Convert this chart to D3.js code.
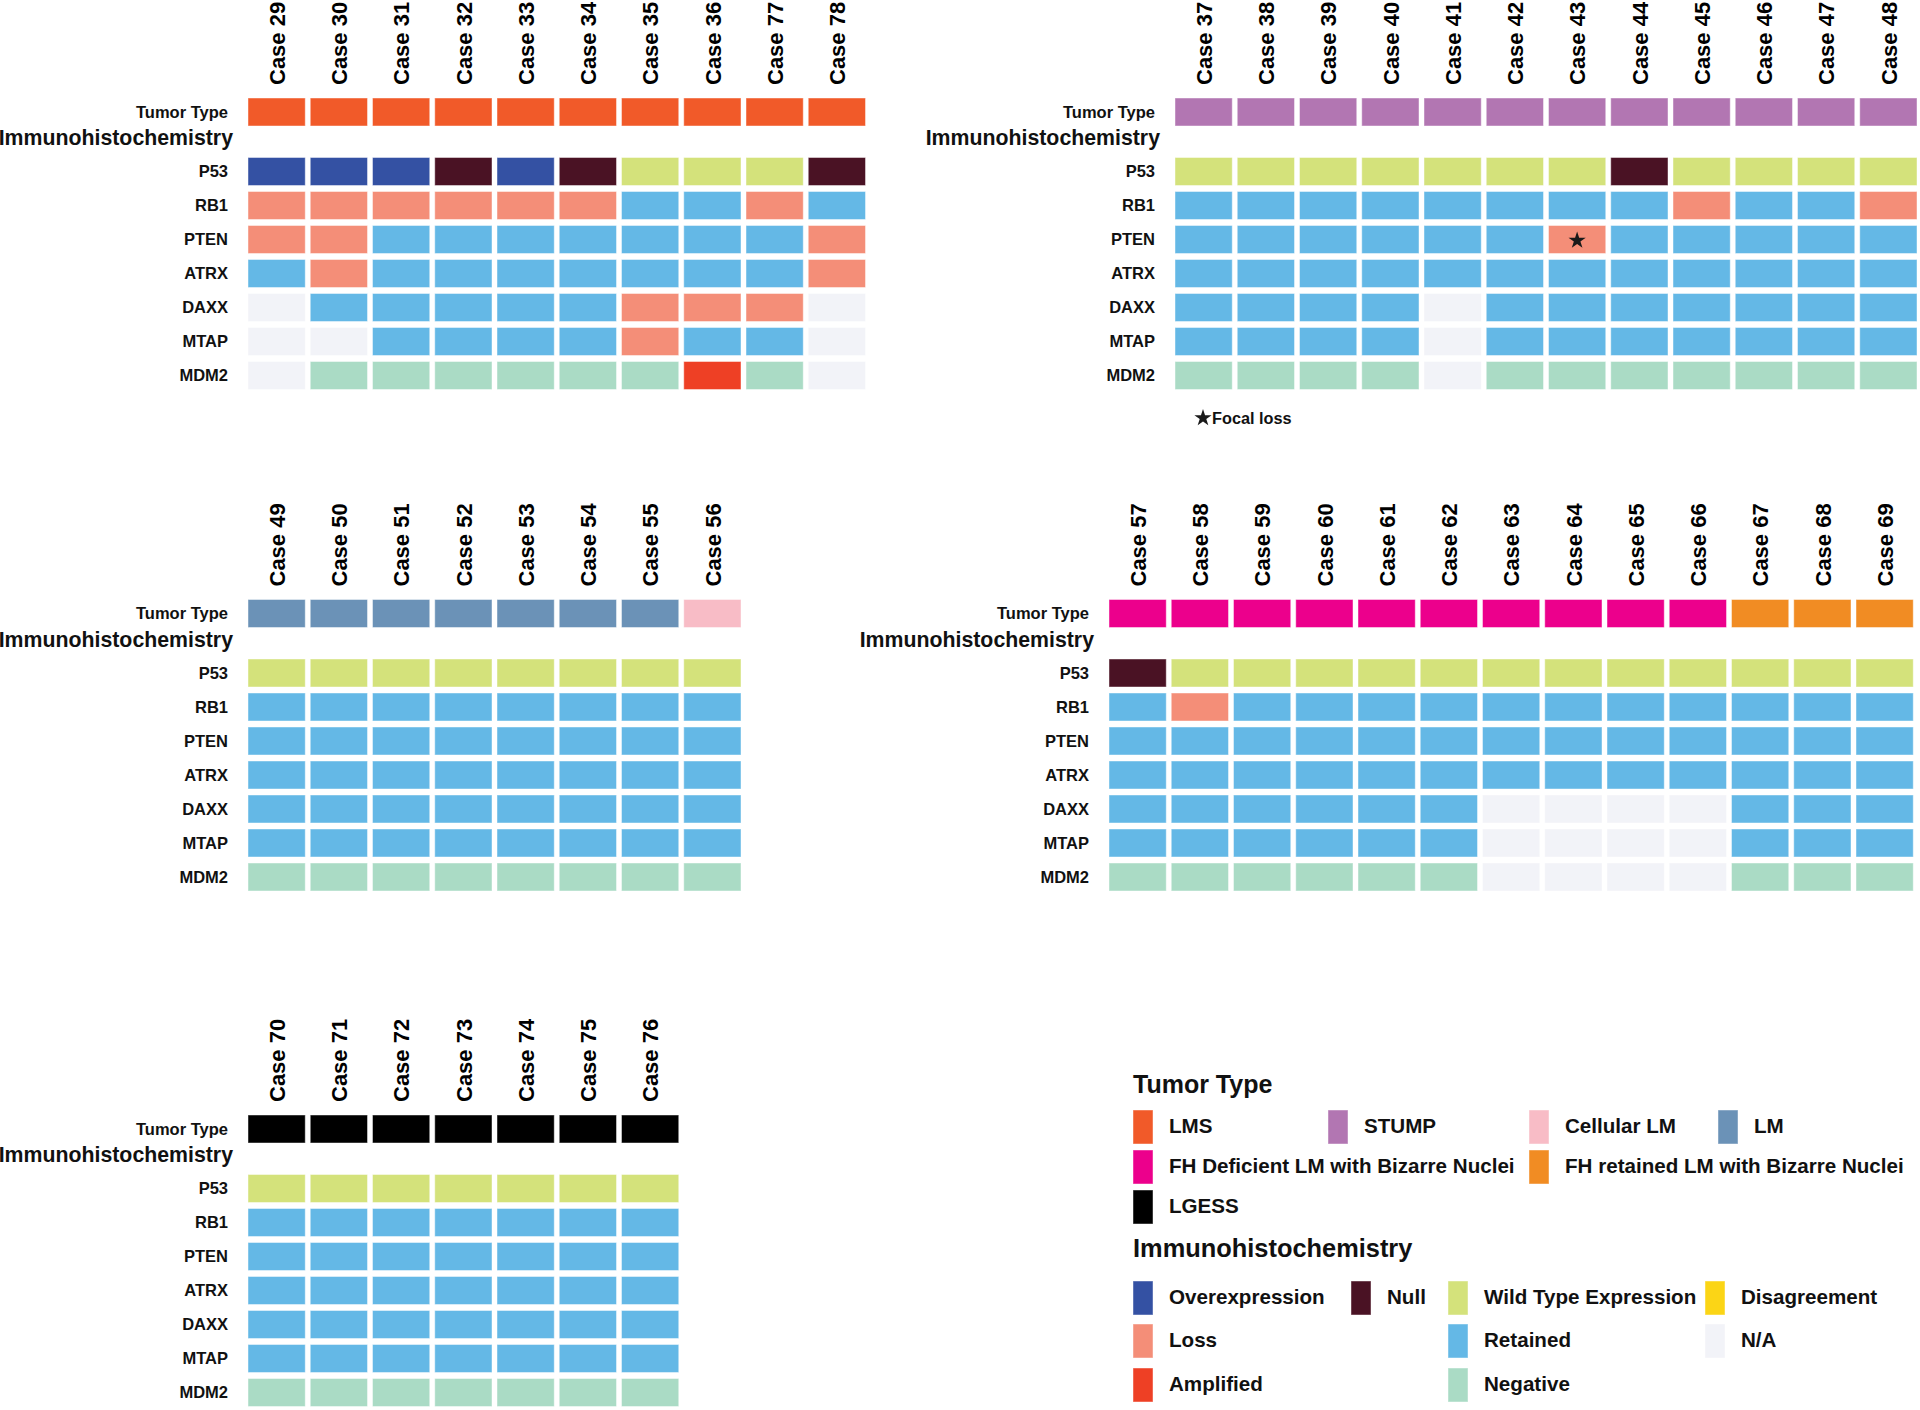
<!DOCTYPE html>
<html>
<head>
<meta charset="utf-8">
<script src="https://cdn.jsdelivr.net/npm/d3@7"></script>
<style>
  body { margin: 0; background: #fff; }
  svg { display: block; }
  text { font-family: "Liberation Sans", Arial, Helvetica, sans-serif; font-weight: bold; fill: #111; }
</style>
</head>
<body>
<svg id="chart" width="1920" height="1410"></svg>
<script>
// ---------------- DATA ----------------
const genes = ["P53", "RB1", "PTEN", "ATRX", "DAXX", "MTAP", "MDM2"];

const tumorTypes  = ["LMS", "STUMP", "Cellular LM", "LM", "FH Deficient LM with Bizarre Nuclei", "FH retained LM with Bizarre Nuclei", "LGESS"];
const tumorColors = ["#F15A29", "#B276B2", "#F8BCC6", "#6B92B7", "#EC008C", "#F18C23", "#000000"];

const ihcCodes      = ["O", "N", "W", "D", "L", "R", "X", "A", "G"];
const ihcCategories = ["Overexpression", "Null", "Wild Type Expression", "Disagreement", "Loss", "Retained", "N/A", "Amplified", "Negative"];
const ihcColors     = ["#3451A3", "#4A1224", "#D4E27B", "#FBD516", "#F48E78", "#64B8E6", "#F2F3F8", "#EE4025", "#AADBC5"];

// Panel A (LMS)
const casesA = ["Case 29", "Case 30", "Case 31", "Case 32", "Case 33", "Case 34", "Case 35", "Case 36", "Case 77", "Case 78"];
const tumorA = ["LMS", "LMS", "LMS", "LMS", "LMS", "LMS", "LMS", "LMS", "LMS", "LMS"];
const ihcA = [
  ["O", "O", "O", "N", "O", "N", "W", "W", "W", "N"], // P53
  ["L", "L", "L", "L", "L", "L", "R", "R", "L", "R"], // RB1
  ["L", "L", "R", "R", "R", "R", "R", "R", "R", "L"], // PTEN
  ["R", "L", "R", "R", "R", "R", "R", "R", "R", "L"], // ATRX
  ["X", "R", "R", "R", "R", "R", "L", "L", "L", "X"], // DAXX
  ["X", "X", "R", "R", "R", "R", "L", "R", "R", "X"], // MTAP
  ["X", "G", "G", "G", "G", "G", "G", "A", "G", "X"]  // MDM2
];

// Panel B (STUMP)
const casesB = ["Case 37", "Case 38", "Case 39", "Case 40", "Case 41", "Case 42", "Case 43", "Case 44", "Case 45", "Case 46", "Case 47", "Case 48"];
const tumorB = ["STUMP", "STUMP", "STUMP", "STUMP", "STUMP", "STUMP", "STUMP", "STUMP", "STUMP", "STUMP", "STUMP", "STUMP"];
const ihcB = [
  ["W", "W", "W", "W", "W", "W", "W", "N", "W", "W", "W", "W"],
  ["R", "R", "R", "R", "R", "R", "R", "R", "L", "R", "R", "L"],
  ["R", "R", "R", "R", "R", "R", "L", "R", "R", "R", "R", "R"],
  ["R", "R", "R", "R", "R", "R", "R", "R", "R", "R", "R", "R"],
  ["R", "R", "R", "R", "X", "R", "R", "R", "R", "R", "R", "R"],
  ["R", "R", "R", "R", "X", "R", "R", "R", "R", "R", "R", "R"],
  ["G", "G", "G", "G", "X", "G", "G", "G", "G", "G", "G", "G"]
];
const focalLossB = [["PTEN", "Case 43"]];

// Panel C (LM / Cellular LM)
const casesC = ["Case 49", "Case 50", "Case 51", "Case 52", "Case 53", "Case 54", "Case 55", "Case 56"];
const tumorC = ["LM", "LM", "LM", "LM", "LM", "LM", "LM", "Cellular LM"];
const ihcC = [
  ["W", "W", "W", "W", "W", "W", "W", "W"],
  ["R", "R", "R", "R", "R", "R", "R", "R"],
  ["R", "R", "R", "R", "R", "R", "R", "R"],
  ["R", "R", "R", "R", "R", "R", "R", "R"],
  ["R", "R", "R", "R", "R", "R", "R", "R"],
  ["R", "R", "R", "R", "R", "R", "R", "R"],
  ["G", "G", "G", "G", "G", "G", "G", "G"]
];

// Panel D (LM with bizarre nuclei)
const casesD = ["Case 57", "Case 58", "Case 59", "Case 60", "Case 61", "Case 62", "Case 63", "Case 64", "Case 65", "Case 66", "Case 67", "Case 68", "Case 69"];
const tumorD = ["FH Deficient LM with Bizarre Nuclei", "FH Deficient LM with Bizarre Nuclei", "FH Deficient LM with Bizarre Nuclei",
  "FH Deficient LM with Bizarre Nuclei", "FH Deficient LM with Bizarre Nuclei", "FH Deficient LM with Bizarre Nuclei",
  "FH Deficient LM with Bizarre Nuclei", "FH Deficient LM with Bizarre Nuclei", "FH Deficient LM with Bizarre Nuclei",
  "FH Deficient LM with Bizarre Nuclei", "FH retained LM with Bizarre Nuclei", "FH retained LM with Bizarre Nuclei",
  "FH retained LM with Bizarre Nuclei"];
const ihcD = [
  ["N", "W", "W", "W", "W", "W", "W", "W", "W", "W", "W", "W", "W"],
  ["R", "L", "R", "R", "R", "R", "R", "R", "R", "R", "R", "R", "R"],
  ["R", "R", "R", "R", "R", "R", "R", "R", "R", "R", "R", "R", "R"],
  ["R", "R", "R", "R", "R", "R", "R", "R", "R", "R", "R", "R", "R"],
  ["R", "R", "R", "R", "R", "R", "X", "X", "X", "X", "R", "R", "R"],
  ["R", "R", "R", "R", "R", "R", "X", "X", "X", "X", "R", "R", "R"],
  ["G", "G", "G", "G", "G", "G", "X", "X", "X", "X", "G", "G", "G"]
];

// Panel E (LGESS)
const casesE = ["Case 70", "Case 71", "Case 72", "Case 73", "Case 74", "Case 75", "Case 76"];
const tumorE = ["LGESS", "LGESS", "LGESS", "LGESS", "LGESS", "LGESS", "LGESS"];
const ihcE = [
  ["W", "W", "W", "W", "W", "W", "W"],
  ["R", "R", "R", "R", "R", "R", "R"],
  ["R", "R", "R", "R", "R", "R", "R"],
  ["R", "R", "R", "R", "R", "R", "R"],
  ["R", "R", "R", "R", "R", "R", "R"],
  ["R", "R", "R", "R", "R", "R", "R"],
  ["G", "G", "G", "G", "G", "G", "G"]
];

// ---------------- DRAWING ----------------
const svg = d3.select("#chart");
const tumorColor = d3.scaleOrdinal().domain(tumorTypes).range(tumorColors);
const ihcColor = d3.scaleOrdinal().domain(ihcCodes).range(ihcColors);

const STEP = 62.25, GAP = 5, ROWSTEP = 34.0, CELLH = 28, IHC_OFFSET = 59.5;

const panels = [
  { cases: casesA, tumor: tumorA, ihc: ihcA, focal: [], left: 248, top: 98 },
  { cases: casesB, tumor: tumorB, ihc: ihcB, focal: focalLossB, left: 1175, top: 98 },
  { cases: casesC, tumor: tumorC, ihc: ihcC, focal: [], left: 248, top: 599.5 },
  { cases: casesD, tumor: tumorD, ihc: ihcD, focal: [], left: 1109, top: 599.5 },
  { cases: casesE, tumor: tumorE, ihc: ihcE, focal: [], left: 248, top: 1115 }
];

const starPath = d3.symbol().type(d3.symbolStar).size(92);

panels.forEach(p => {
  const g = svg.append("g");
  const n = p.cases.length;
  const x = d3.scaleBand().domain(p.cases)
    .range([p.left, p.left + n * STEP - GAP])
    .paddingInner(GAP / STEP).paddingOuter(0);
  const y = d3.scaleBand().domain(genes)
    .range([p.top + IHC_OFFSET, p.top + IHC_OFFSET + genes.length * ROWSTEP - (ROWSTEP - CELLH)])
    .paddingInner((ROWSTEP - CELLH) / ROWSTEP).paddingOuter(0);
  const bw = x.bandwidth();

  // case labels
  g.selectAll("text.case").data(p.cases).join("text")
    .attr("class", "case")
    .attr("transform", d => `translate(${x(d) + bw / 2 + 0.5},${p.top - 13}) rotate(-90)`)
    .attr("dy", "0.35em")
    .attr("text-anchor", "start")
    .style("font-size", "22px")
    .style("fill", "#000")
    .text(d => d);

  // tumor type row
  g.selectAll("rect.tumor").data(p.cases.map((c, i) => ({ c, t: p.tumor[i] }))).join("rect")
    .attr("class", "tumor")
    .attr("x", d => x(d.c)).attr("y", p.top)
    .attr("width", bw).attr("height", CELLH)
    .attr("fill", d => tumorColor(d.t))
    .attr("stroke", "#fff").attr("stroke-opacity", 0.45).attr("stroke-width", 1);

  g.append("text")
    .attr("x", p.left - 20).attr("y", p.top + CELLH / 2).attr("dy", "0.35em")
    .attr("text-anchor", "end").style("font-size", "16.5px")
    .text("Tumor Type");

  g.append("text")
    .attr("x", p.left - 15).attr("y", p.top + 40).attr("dy", "0.35em")
    .attr("text-anchor", "end").style("font-size", "21.3px")
    .text("Immunohistochemistry");

  // IHC cells
  const cells = [];
  genes.forEach((gene, r) => p.cases.forEach((c, i) => cells.push({ gene, c, v: p.ihc[r][i] })));
  g.selectAll("rect.ihc").data(cells).join("rect")
    .attr("class", "ihc")
    .attr("x", d => x(d.c)).attr("y", d => y(d.gene))
    .attr("width", bw).attr("height", y.bandwidth())
    .attr("fill", d => ihcColor(d.v))
    .attr("stroke", "#fff").attr("stroke-opacity", 0.45).attr("stroke-width", 1);

  g.selectAll("text.gene").data(genes).join("text")
    .attr("class", "gene")
    .attr("x", p.left - 20).attr("y", d => y(d) + y.bandwidth() / 2).attr("dy", "0.35em")
    .attr("text-anchor", "end").style("font-size", "16.5px")
    .text(d => d);

  // focal loss stars
  g.selectAll("path.star").data(p.focal).join("path")
    .attr("class", "star")
    .attr("d", starPath)
    .attr("transform", d => `translate(${x(d[1]) + bw / 2},${y(d[0]) + y.bandwidth() / 2 + 1})`)
    .attr("fill", "#1a1a1a");
});

// focal loss note
svg.append("path").attr("d", starPath)
  .attr("transform", "translate(1203,418)").attr("fill", "#1a1a1a");
svg.append("text").attr("x", 1212).attr("y", 418).attr("dy", "0.35em")
  .style("font-size", "16.3px").text("Focal loss");

// ---------------- LEGEND ----------------
const leg = svg.append("g");
leg.append("text").attr("x", 1133).attr("y", 1093).style("font-size", "25px").text("Tumor Type");

const tumorLegX = [1133, 1328, 1529, 1718, 1133, 1529, 1133];
const tumorLegRow = [0, 0, 0, 0, 1, 1, 2];
const tumorRowTop = [1110, 1150, 1190];
tumorTypes.forEach((t, i) => {
  const sx = tumorLegX[i], sy = tumorRowTop[tumorLegRow[i]];
  leg.append("rect").attr("x", sx).attr("y", sy).attr("width", 20).attr("height", 34)
    .attr("fill", tumorColor(t)).attr("stroke", "#fff").attr("stroke-opacity", 0.45);
  leg.append("text").attr("x", sx + 36).attr("y", sy + 15.5).attr("dy", "0.35em")
    .style("font-size", "20.6px").text(t);
});

leg.append("text").attr("x", 1133).attr("y", 1257).style("font-size", "25.4px").text("Immunohistochemistry");

const ihcLegX = [1133, 1351, 1448, 1705, 1133, 1448, 1705, 1133, 1448];
const ihcLegRow = [0, 0, 0, 0, 1, 1, 1, 2, 2];
const ihcRowTop = [1281, 1324, 1368];
ihcCodes.forEach((c, i) => {
  const sx = ihcLegX[i], sy = ihcRowTop[ihcLegRow[i]];
  leg.append("rect").attr("x", sx).attr("y", sy).attr("width", 20).attr("height", 34)
    .attr("fill", ihcColor(c)).attr("stroke", "#fff").attr("stroke-opacity", 0.45);
  leg.append("text").attr("x", sx + 36).attr("y", sy + 16).attr("dy", "0.35em")
    .style("font-size", "20.6px").text(ihcCategories[i]);
});
</script>
</body>
</html>
